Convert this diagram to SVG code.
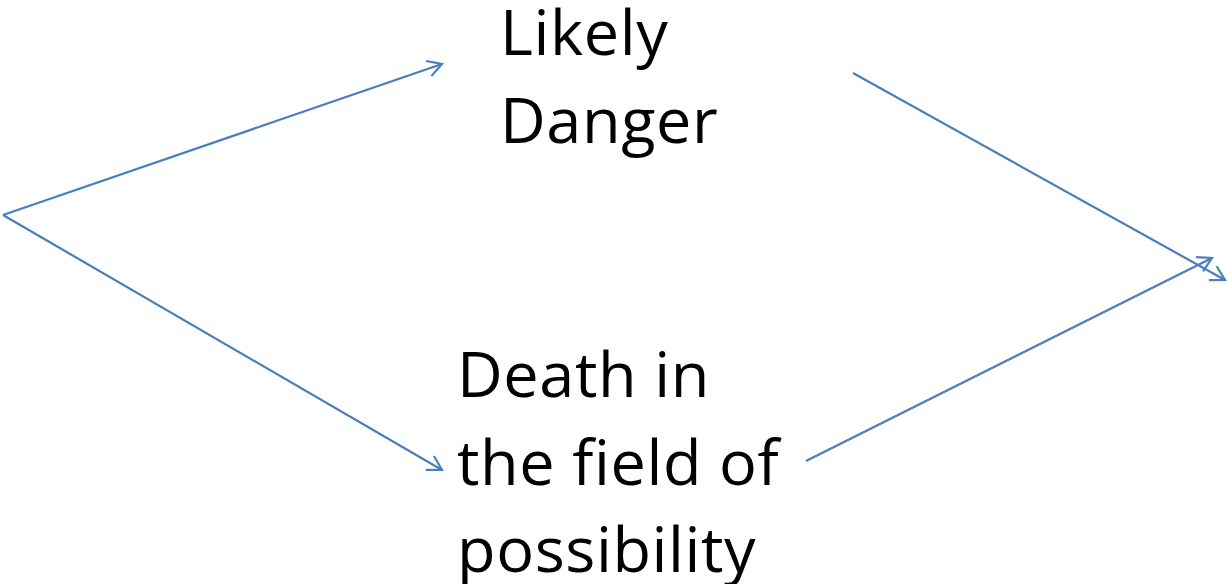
<svg xmlns="http://www.w3.org/2000/svg" width="1229" height="584" viewBox="0 0 1229 584">
<style>
.c{fill:none;stroke:#4a7ebb;stroke-width:2.2}
.t{font-family:"Open Sans","Liberation Sans",sans-serif;font-size:63px;letter-spacing:0.6px;fill:#000}
</style>
<defs>
<marker id="ah" markerUnits="userSpaceOnUse" markerWidth="30" markerHeight="30" refX="0" refY="0" viewBox="-20 -15 30 30" orient="auto" overflow="visible">
<path d="M-14,-8 L0,0 L-14,8" fill="none" stroke="#4a7ebb" stroke-width="2.2"/>
</marker>
</defs>
<rect width="1229" height="584" fill="#fff"/>
<g id="connectors">
<line class="c" x1="3" y1="215" x2="442" y2="64" marker-end="url(#ah)"/>
<line class="c" x1="3" y1="215" x2="442" y2="470" marker-end="url(#ah)"/>
<line class="c" x1="853" y1="73" x2="1225" y2="280" marker-end="url(#ah)"/>
<line class="c" x1="806" y1="461" x2="1212" y2="258" marker-end="url(#ah)"/>
</g>
<g id="likely-danger">
<text class="t" x="500" y="55">Likely</text>
<text class="t" x="500" y="143">Danger</text>
</g>
<g id="death">
<text class="t" x="457" y="397">Death in</text>
<text class="t" x="457" y="485">the field of</text>
<text class="t" x="457" y="572">possibility</text>
</g>
</svg>
